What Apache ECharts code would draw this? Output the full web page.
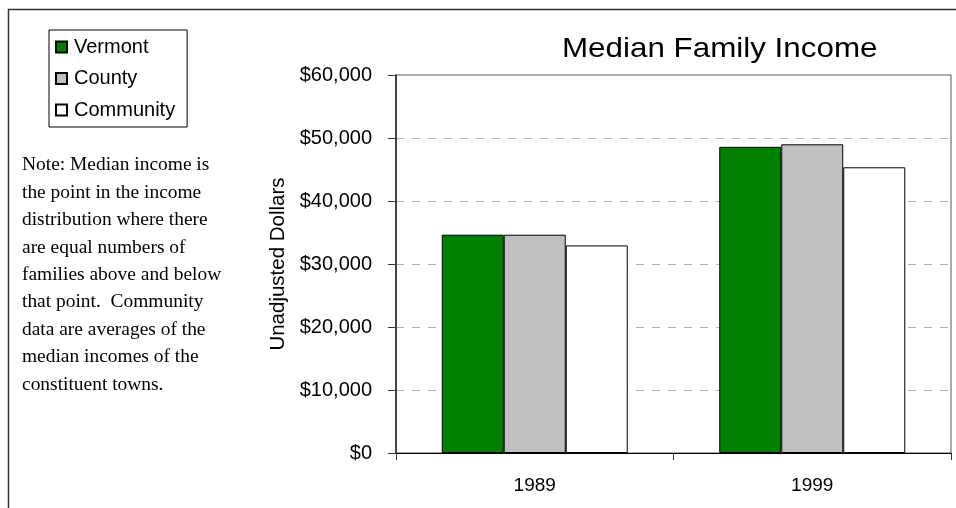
<!DOCTYPE html>
<html>
<head>
<meta charset="utf-8">
<script src="https://cdn.jsdelivr.net/npm/echarts@6/dist/echarts.min.js"></script>
<style>html,body{margin:0;padding:0;background:#fff}#c{width:956px;height:508px}</style>
</head>
<body>
<div id="c"></div>
<script>
const categories = ['1989', '1999'];
const vermont = [34650, 48600];
const county = [34650, 49000];
const community = [32950, 45350];
const yTicks = [0, 10000, 20000, 30000, 40000, 50000, 60000];
const noteLines = [
  'Note: Median income is',
  'the point in the income',
  'distribution where there',
  'are equal numbers of',
  'families above and below',
  'that point.  Community',
  'data are averages of the',
  'median incomes of the',
  'constituent towns.'
];

const chart = echarts.init(document.getElementById('c'), null, {renderer: 'canvas'});
const sans = 'Liberation Sans, Arial, sans-serif';
const fmt = v => '$' + v.toString().replace(/\B(?=(\d{3})+(?!\d))/g, ',');

function bar(name, data, color) {
  return {
    name: name, type: 'bar', data: data, barWidth: 62, barGap: '0%',
    itemStyle: {color: color, borderColor: '#000', borderWidth: 1},
    emphasis: {disabled: true}
  };
}

chart.setOption({
  animation: false,
  grid: {left: 396, right: 5, top: 75, bottom: 55, show: true, borderColor: '#555', borderWidth: 1, backgroundColor: 'transparent'},
  legend: {
    orient: 'vertical', left: 49, top: 30, padding: [7, 12, 7, 6],
    borderColor: '#000', borderWidth: 1, itemWidth: 11, itemHeight: 11, itemGap: 11.5,
    icon: 'rect',
    textStyle: {fontFamily: sans, fontSize: 20, color: '#000', padding: [0, 0, 0, 2]},
    data: ['Vermont', 'County', 'Community']
  },
  xAxis: {
    type: 'category', data: categories,
    axisLine: {lineStyle: {color: '#000', width: 1}},
    axisTick: {show: true, length: 7, lineStyle: {color: '#333'}},
    axisLabel: {fontFamily: sans, fontSize: 19, color: '#000', margin: 23}
  },
  yAxis: {
    type: 'value', min: yTicks[0], max: yTicks[yTicks.length - 1], interval: yTicks[1] - yTicks[0],
    name: 'Unadjusted Dollars', nameLocation: 'middle', nameGap: 107,
    nameTextStyle: {fontFamily: sans, fontSize: 20.5, color: '#000'},
    axisLine: {show: true, lineStyle: {color: '#222', width: 1.5}},
    axisTick: {show: true, length: 8, lineStyle: {color: '#333'}},
    splitLine: {lineStyle: {color: '#b0b0b0', type: [8, 8], width: 1}},
    axisLabel: {fontFamily: sans, fontSize: 20, color: '#000', margin: 24, formatter: fmt}
  },
  graphic: [
    {type: 'rect', silent: true, z: -1, shape: {x: 8.5, y: 9.5, width: 1000, height: 600}, style: {fill: 'none', stroke: '#333', lineWidth: 1.5}},
    {type: 'text', left: 562, top: 35, style: {text: 'Median Family Income', font: '28px ' + sans, fill: '#000'}, scaleX: 1.12},
    {type: 'text', left: 22, top: 152, style: {text: noteLines.join('\n'), font: '18px Liberation Serif, Times New Roman, serif', lineHeight: 27.4, fill: '#000'}, scaleX: 1.08}
  ],
  series: [
    bar('Vermont', vermont, '#008000'),
    bar('County', county, '#C0C0C0'),
    bar('Community', community, '#FFFFFF')
  ]
});
</script>
</body>
</html>
